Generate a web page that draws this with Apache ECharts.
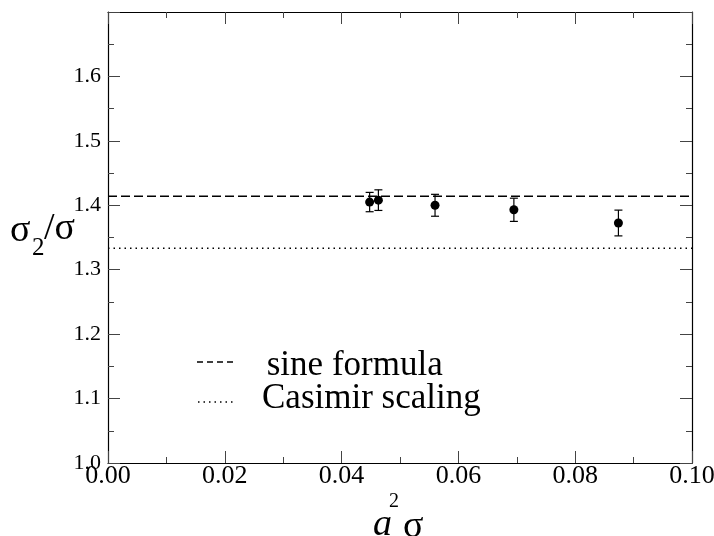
<!DOCTYPE html>
<html>
<head>
<meta charset="utf-8">
<script src="https://cdn.jsdelivr.net/npm/echarts@6/dist/echarts.min.js"></script>
<style>html,body{margin:0;padding:0;background:#fff}#c{width:714px;height:536px}</style>
</head>
<body>
<div id="c"></div>
<script>
// data
var xVals = [0.0448, 0.0463, 0.0560, 0.0695, 0.0874];
var yVals = [1.405, 1.408, 1.400, 1.393, 1.3725];
var yErrs = [0.015, 0.016, 0.017, 0.018, 0.020];
var sineLevel = 1.4142;
var casimirLevel = 1.3333;
var lineX = [0.0, 0.1];
var xTicks = [0.00, 0.02, 0.04, 0.06, 0.08, 0.10];
var yTicks = [1.0, 1.1, 1.2, 1.3, 1.4, 1.5, 1.6];
var legendNames = [' sine formula', 'Casimir scaling'];

var FONT = '"Liberation Serif", "DejaVu Serif", serif';
var chart = echarts.init(document.getElementById('c'));

var points = xVals.map(function (x, i) { return [x, yVals[i]]; });
var errs = xVals.map(function (x, i) { return [x, yVals[i] - yErrs[i], yVals[i] + yErrs[i]]; });

function axisCommon() {
  return {
    axisLine: { show: true, onZero: false, lineStyle: { color: '#000', width: 1.2 } },
    axisTick: { show: true, inside: true, length: 12, lineStyle: { color: '#444', width: 1 } },
    minorTick: { show: true, splitNumber: 2, length: 6, lineStyle: { color: '#444', width: 1 } },
    splitLine: { show: false },
    minorSplitLine: { show: false }
  };
}

var xb = Object.assign(axisCommon(), {
  type: 'value', position: 'bottom', min: 0, max: 0.1, interval: 0.02,
  axisLabel: { show: true, fontFamily: FONT, fontSize: 26, color: '#000', margin: 0,
    formatter: function (v) {
      var s = v.toFixed(2);
      return xTicks.some(function (t) { return t.toFixed(2) === s; }) ? s : '';
    } }
});
var xt = Object.assign(axisCommon(), {
  type: 'value', position: 'top', min: 0, max: 0.1, interval: 0.02,
  axisLabel: { show: false }
});
var yl = Object.assign(axisCommon(), {
  type: 'value', position: 'left', min: 1.0, max: 1.7, interval: 0.1,
  axisLabel: { show: true, fontFamily: FONT, fontSize: 22, color: '#000', margin: 7,
    formatter: function (v) {
      var s = v.toFixed(1);
      return yTicks.some(function (t) { return t.toFixed(1) === s; }) ? s : '';
    } }
});
var yr = Object.assign(axisCommon(), {
  type: 'value', position: 'right', min: 1.0, max: 1.7, interval: 0.1,
  axisLabel: { show: false }
});

chart.setOption({
  animation: false,
  backgroundColor: '#fff',
  grid: { left: 108, right: 22, top: 12, bottom: 73, containLabel: false, outerBoundsMode: 'none' },
  xAxis: [xb, xt],
  yAxis: [yl, yr],
  series: [
    {
      name: legendNames[0], type: 'line', symbol: 'none', color: '#000',
      data: lineX.map(function (x) { return [x, sineLevel]; }),
      lineStyle: { color: '#000', width: 1.5, type: [9, 4] }
    },
    {
      name: legendNames[1], type: 'line', symbol: 'none', color: '#000',
      data: lineX.map(function (x) { return [x, casimirLevel]; }),
      lineStyle: { color: '#000', width: 1.5, type: [1.5, 4] }
    },
    {
      type: 'custom',
      data: errs,
      renderItem: function (params, api) {
        var x = api.value(0);
        var lo = api.coord([x, api.value(1)]);
        var hi = api.coord([x, api.value(2)]);
        var w = 4;
        var st = { stroke: '#000', lineWidth: 1.2 };
        return {
          type: 'group',
          children: [
            { type: 'line', shape: { x1: lo[0], y1: lo[1], x2: hi[0], y2: hi[1] }, style: st },
            { type: 'line', shape: { x1: lo[0] - w, y1: lo[1], x2: lo[0] + w, y2: lo[1] }, style: st },
            { type: 'line', shape: { x1: hi[0] - w, y1: hi[1], x2: hi[0] + w, y2: hi[1] }, style: st }
          ]
        };
      },
      z: 3
    },
    {
      type: 'scatter', data: points, symbol: 'circle', symbolSize: 9,
      itemStyle: { color: '#000', opacity: 1 }, z: 4
    }
  ],
  graphic: [
    // legend
    { type: 'line', shape: { x1: 197, y1: 362, x2: 235, y2: 362 }, style: { stroke: '#000', lineWidth: 1.5, lineDash: [6, 4] } },
    { type: 'line', shape: { x1: 198, y1: 402, x2: 235, y2: 402 }, style: { stroke: '#000', lineWidth: 1.5, lineDash: [1.5, 4] } },
    { type: 'text', left: 258, top: 348, style: { text: legendNames[0], font: '35px ' + FONT, fill: '#000' } },
    { type: 'text', left: 262, top: 381, style: { text: legendNames[1], font: '35px ' + FONT, fill: '#000' } },
    // y title
    { type: 'text', left: 10, top: 212, style: { text: 'σ', font: '38px ' + FONT, fill: '#000' } },
    { type: 'text', left: 32, top: 236, style: { text: '2', font: '25px ' + FONT, fill: '#000' } },
    { type: 'text', left: 44, top: 210, style: { text: '/σ', font: '38px ' + FONT, fill: '#000' } },
    // x title
    { type: 'text', left: 373, top: 506, style: { text: 'a', font: 'italic 38px ' + FONT, fill: '#000' } },
    { type: 'text', left: 389, top: 492, style: { text: '2', font: '20px ' + FONT, fill: '#000' } },
    { type: 'text', left: 403, top: 508, style: { text: 'σ', font: '38px ' + FONT, fill: '#000' } }
  ]
});
</script>
</body>
</html>
